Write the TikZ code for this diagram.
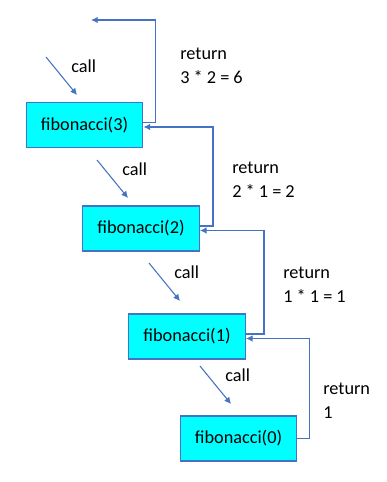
\documentclass[tikz,border=0pt]{standalone}
\usepackage{fontspec}
\setmainfont{Carlito}
\usepackage{xcolor}
\usetikzlibrary{arrows.meta}
\definecolor{linkblue}{HTML}{4472C4}
\definecolor{boxcyan}{HTML}{00FFFF}
\begin{document}
\begin{tikzpicture}[x=0.75pt, y=-0.75pt,
  fibbox/.style={draw=linkblue, fill=boxcyan, line width=1pt, inner sep=0pt,
                 minimum width=87.4pt, minimum height=33.75pt,
                 font=\fontsize{13.7}{18}\selectfont},
  link/.style={draw=linkblue, line width=1pt, -{Latex[length=5pt,width=5pt]}},
  lbl/.style={font=\fontsize{13.7}{18}\selectfont, align=left, inner sep=0pt, anchor=base west}]
\useasboundingbox (0,0) rectangle (386,482);
% Recursive calls: box, call arrow and its label
\foreach \n/\x/\y/\cx/\cy in {3/84.5/125/46/57, 2/141/228.5/97/160,
                              1/187/336.5/149/263, 0/238.5/438.5/200/366} {
  \node[fibbox] (f\n) at (\x, \y) {fibonacci(\n)};
  \coordinate (cs\n) at (\cx, \cy);
  \coordinate (ce\n) at (\cx+31, \cy+38);
  \draw[link, line width=0.8pt] (cs\n) -- (ce\n);
  \node[lbl] (call\n) at (\cx+25, \cy+15.5) {call};
}
% Return values (base = last line)
\coordinate (top) at (91, 20);
\draw[link] ([yshift=2pt]f3.east) -- ++(12,0) |- (top);
\draw[link] ([yshift=2pt]f2.east) -- ++(13,0) |- ([yshift=-1.5pt]f3.east);
\draw[link] ([yshift=2pt]f1.east) -- ++(18,0) |- ([yshift=-1.5pt]f2.east);
\draw[link] (f0.east) -- ++(12,0) |- ([yshift=-1.5pt]f1.east);
\node[lbl] (ret3) at (180, 83) {return\\3 * 2 = 6};
\node[lbl] (ret2) at (232, 197) {return\\2 * 1 = 2};
\node[lbl] (ret1) at (283, 302) {return\\1 * 1 = 1};
\node[lbl] (ret0) at (323, 418) {return\\1};
\end{tikzpicture}
\end{document}
